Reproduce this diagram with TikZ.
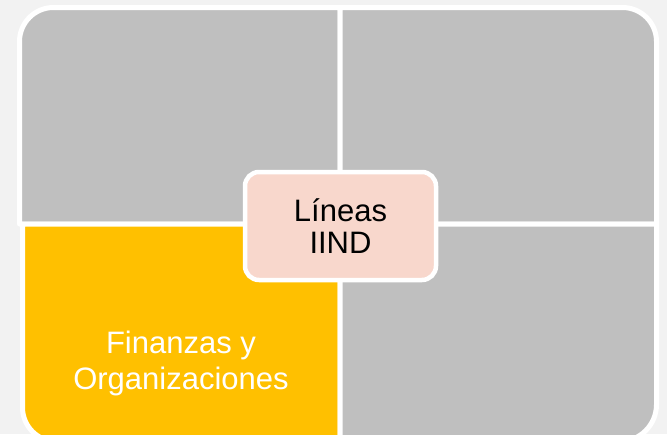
\documentclass[tikz,border=0pt]{standalone}
\usepackage{fontspec}
\setmainfont{Liberation Sans}
\usepackage{tikz}
\usetikzlibrary{positioning}
\definecolor{fondo}{HTML}{F2F2F2}
\definecolor{gris}{HTML}{BFBFBF}
\definecolor{naranja}{HTML}{FFC000}
\definecolor{rosa}{HTML}{F8D7CC}

\begin{document}
\begin{tikzpicture}[x=1pt, y=1pt]
\tikzstyle{quad}=[draw=white, line width=5pt, line join=round]
\tikzstyle{centerbox}=[rectangle, draw=white, fill=rosa, line width=4.5pt, rounded corners=14pt,
        minimum width=191pt, minimum height=108pt, align=center, text=black,
        font=\fontsize{31}{32.7}\selectfont]
\tikzstyle{quadtext}=[align=center, text=white, font=\fontsize{31}{36}\selectfont]

\def \r {34}
\def \xm {340}
\def \ym {-224}

    \useasboundingbox (0,0) rectangle (667,-434);
    \fill[fondo] (0,0) rectangle (667,-434);

    % four quadrants
    \draw[quad, fill=gris] (\xm,\ym) -- (19.5,\ym) -- (19.5,-7.5-\r)
        arc[start angle=180, end angle=90, radius=\r] -- (\xm,-7.5) -- cycle;
    \draw[quad, fill=gris] (\xm,\ym) -- (\xm,-7.5) -- (656.5-\r,-7.5)
        arc[start angle=90, end angle=0, radius=\r] -- (656.5,\ym) -- cycle;
    \draw[quad, fill=naranja] (\xm,\ym) -- (22.5,\ym) -- (22.5,-441.5+\r)
        arc[start angle=180, end angle=270, radius=\r] -- (\xm,-441.5) -- cycle;
    \draw[quad, fill=gris] (\xm,\ym) -- (656.5,\ym) -- (656.5,-441.5+37)
        arc[start angle=0, end angle=-90, radius=37] -- (\xm,-441.5) -- cycle;

    \node (finanzas) [quadtext] at (181,-363){
            Finanzas y\\
            Organizaciones
    };

    \node (lineas) [centerbox] at (340.5,-226){
            Líneas\\
            IIND
    };

\end{tikzpicture}
\end{document}
